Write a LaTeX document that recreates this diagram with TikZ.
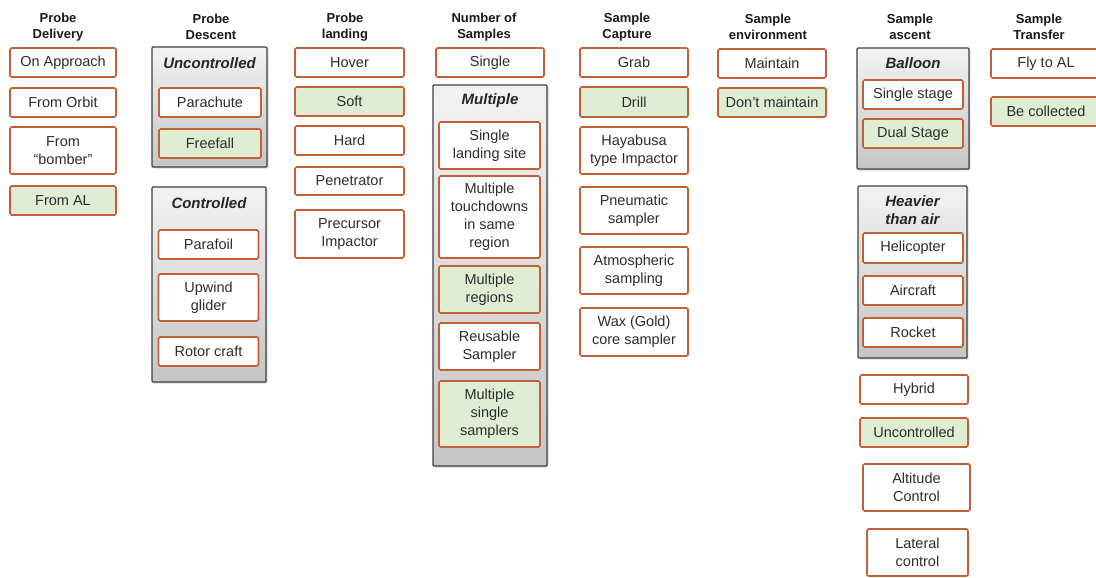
\documentclass[tikz,border=0pt]{standalone}
\usepackage{fontspec}
\setmainfont{Liberation Sans}
\usetikzlibrary{shadows}
\definecolor{optionedge}{RGB}{194,96,54}
\definecolor{chosengreen}{RGB}{222,237,212}
\definecolor{groupedge}{RGB}{64,64,64}
\definecolor{textgray}{RGB}{45,45,45}

\begin{document}
\begin{tikzpicture}[x=1pt, y=-1pt,
    header/.style={font=\bfseries\fontsize{13}{16}\selectfont, align=center, text=black!90},
    option/.style={draw=optionedge, line width=1.7pt, fill=white, rounded corners=1.5pt, align=center, inner sep=1pt, text=textgray, font=\fontsize{14.5}{18}\selectfont},
    chosen/.style={option, fill=chosengreen},
    group/.style={draw=groupedge, line width=1.4pt, top color=gray!10, bottom color=gray!45, rounded corners=1pt,
        drop shadow={shadow xshift=1.5pt, shadow yshift=-1.5pt, opacity=0.3}},
    grouptitle/.style={font=\bfseries\itshape\fontsize{15}{18}\selectfont, align=center, text=black!85},
    wh/.style 2 args={minimum width=#1pt, minimum height=#2pt}
]
\useasboundingbox (0,0) rectangle (1096,578);

% column headers
\node[header] (hdelivery) at (58,27) {Probe\\Delivery};
\node[header] (hdescent) at (211,27) {Probe\\Descent};
\node[header] (hlanding) at (345,27) {Probe\\landing};
\node[header] (hnumber) at (484,27) {Number of\\Samples};
\node[header] (hcapture) at (627,27) {Sample\\Capture};
\node[header] (henv) at (768,27) {Sample\\environment};
\node[header] (hascent) at (910,27) {Sample\\ascent};
\node[header] (htransfer) at (1039,27) {Sample\\Transfer};

% probe delivery
\node[option, wh={106}{29}] (approach) at (63,62.5) {On Approach};
\node[option, wh={106}{29}] (orbit) at (63,102.5) {From Orbit};
\node[option, wh={106}{47}] (bomber) at (63,150.5) {From\\``bomber''};
\node[chosen, wh={106}{29}] (fromal) at (63,200.5) {From AL};

% probe descent
\node[group, wh={115}{120}] (uncdescent) at (209.5,107) {};
\node[grouptitle] (tuncdescent) at (209.5,63) {Uncontrolled};
\node[option, wh={102}{29}] (parachute) at (210,102.5) {Parachute};
\node[chosen, wh={102}{29}] (freefall) at (210,143.5) {Freefall};
\node[group, wh={114}{195}] (condescent) at (209,284.5) {};
\node[grouptitle] (tcondescent) at (209,203) {Controlled};
\node[option, wh={100}{29}] (parafoil) at (208.5,244.5) {Parafoil};
\node[option, wh={100}{47}] (glider) at (208.5,297.5) {Upwind\\glider};
\node[option, wh={100}{29}] (rotor) at (208.5,351.5) {Rotor craft};

% probe landing
\node[option, wh={109}{29}] (hover) at (349.5,62.5) {Hover};
\node[chosen, wh={109}{29}] (soft) at (349.5,101.5) {Soft};
\node[option, wh={109}{29}] (hard) at (349.5,140.5) {Hard};
\node[option, wh={109}{28}] (penetrator) at (349.5,181) {Penetrator};
\node[option, wh={109}{48}] (precursor) at (349.5,234) {Precursor\\Impactor};

% number of samples
\node[option, wh={108}{29}] (single) at (490,62.5) {Single};
\node[group, wh={114}{381}] (multiple) at (490,275.5) {};
\node[grouptitle] (tmultiple) at (490,101) {Multiple};
\node[option, wh={101}{47}] (onesite) at (489.5,145.5) {Single\\landing site};
\node[option, wh={101}{82}] (touchdowns) at (489.5,217) {Multiple\\touchdowns\\in same\\region};
\node[chosen, wh={101}{47}] (regions) at (489.5,289.5) {Multiple\\regions};
\node[option, wh={101}{47}] (reusable) at (489.5,346.5) {Reusable\\Sampler};
\node[chosen, wh={101}{66}] (samplers) at (489.5,414) {Multiple\\single\\samplers};

% sample capture
\node[option, wh={108}{29}] (grab) at (634,62.5) {Grab};
\node[chosen, wh={108}{30}] (drill) at (634,102) {Drill};
\node[option, wh={108}{47}] (hayabusa) at (634,150.5) {Hayabusa\\type Impactor};
\node[option, wh={108}{47}] (pneumatic) at (634,210.5) {Pneumatic\\sampler};
\node[option, wh={108}{47}] (atmos) at (634,270.5) {Atmospheric\\sampling};
\node[option, wh={108}{48}] (wax) at (634,332) {Wax (Gold)\\core sampler};

% sample environment
\node[option, wh={108}{29}] (maintain) at (772,63.5) {Maintain};
\node[chosen, wh={108}{29}] (nomaintain) at (772,102.5) {Don't maintain};

% sample ascent
\node[group, wh={112}{121}] (balloon) at (913,108.5) {};
\node[grouptitle] (tballoon) at (913,63.5) {Balloon};
\node[option, wh={100}{29}] (onestage) at (913,94.5) {Single stage};
\node[chosen, wh={100}{29}] (dualstage) at (913,133.5) {Dual Stage};
\node[group, wh={109}{172}] (heavier) at (912.5,272) {};
\node[grouptitle] (theavier) at (912.5,210) {Heavier\\than air};
\node[option, wh={100}{30}] (helicopter) at (913,248) {Helicopter};
\node[option, wh={100}{29}] (aircraft) at (913,290.5) {Aircraft};
\node[option, wh={100}{29}] (rocket) at (913,332.5) {Rocket};
\node[option, wh={108}{29}] (hybrid) at (914,389.5) {Hybrid};
\node[chosen, wh={108}{29}] (uncascent) at (914,432.5) {Uncontrolled};
\node[option, wh={107}{47}] (altitude) at (916.5,487.5) {Altitude\\Control};
\node[option, wh={101}{47}] (lateral) at (917.5,552.5) {Lateral\\control};

% sample transfer
\node[option, wh={110}{29}] (flytoal) at (1046,63.5) {Fly to AL};
\node[chosen, wh={110}{29}] (collected) at (1046,111.5) {Be collected};
\end{tikzpicture}
\end{document}
